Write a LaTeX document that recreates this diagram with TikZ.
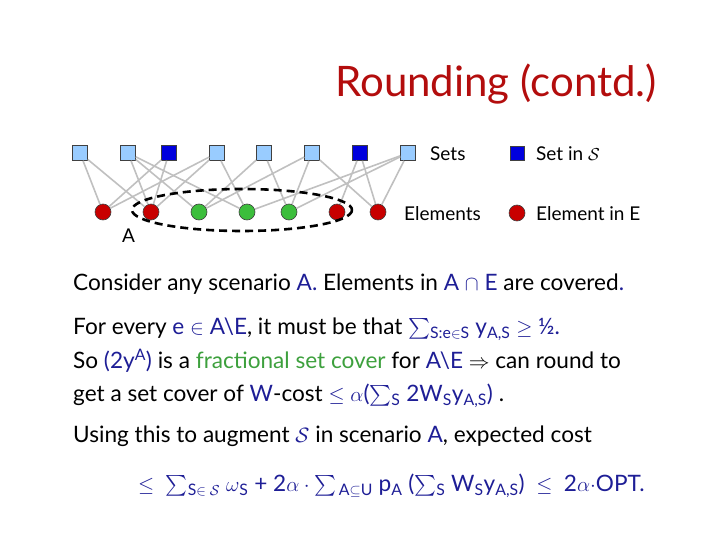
\documentclass[tikz,border=0pt]{standalone}
\usepackage{fontspec}
\setmainfont{Lato}
\usepackage{xcolor}
\usepackage{amsmath}
\usetikzlibrary{positioning}
\definecolor{titleRed} {HTML}{B30D0D}
\definecolor{textBlue} {HTML}{1E1E96}
\definecolor{textGreen}{HTML}{3DA03D}
\definecolor{setLight} {HTML}{99CCFF}
\definecolor{setDark}  {HTML}{0000DD}
\definecolor{elemRed}  {HTML}{C80000}
\definecolor{elemGreen}{HTML}{3CBE3C}
\definecolor{linkGray} {HTML}{C0C0C0}
\newcommand{\bl}[1]{\textcolor{textBlue}{#1}}
\newcommand{\gr}[1]{\textcolor{textGreen}{#1}}
\newcommand{\lo}[1]{\smash{\textsubscript{#1}}}
\newcommand{\hi}[1]{\smash{\textsuperscript{#1}}}
\tikzset{
  setnode/.style={rectangle,draw=black!75,line width=0.6pt,fill=setLight,minimum size=15pt,inner sep=0pt},
  setin/.style={setnode,fill=setDark},
  elem/.style={circle,draw=black!75,line width=0.6pt,fill=elemRed,minimum size=16pt,inner sep=0pt},
  elemfree/.style={elem,fill=elemGreen},
  link/.style={draw=linkGray,line width=1.6pt},
  scenario/.style={draw=black,dashed,dash pattern=on 8pt off 5pt,line width=2.6pt},
  legend/.style={anchor=base west,inner sep=0pt,font=\fontsize{19}{23}\selectfont},
  textline/.style={anchor=base west,inner sep=0pt,font=\fontsize{22.6}{27}\selectfont},
  title/.style={anchor=base east,inner sep=0pt,text=titleRed,font=\fontsize{42}{50}\selectfont},
}
\begin{document}
\begin{tikzpicture}[x=1pt,y=-1pt]
\useasboundingbox (0,0) rectangle (720,540);

\node[title] (ttl) at (657,97) {Rounding (contd.)};

\node[setnode] (s1) at (80,153)  {};
\node[setnode] (s2) at (128,153) {};
\node[setin]   (s3) at (169,153) {};
\node[setnode] (s4) at (217,153) {};
\node[setnode] (s5) at (264,153) {};
\node[setnode] (s6) at (312,153) {};
\node[setin]   (s7) at (360,153) {};
\node[setnode] (s8) at (408,153) {};

\node[elem]     (e1) at (103,212) {};
\node[elem]     (e2) at (151,212) {};
\node[elemfree] (e3) at (199,212) {};
\node[elemfree] (e4) at (247,212) {};
\node[elemfree] (e5) at (289,212) {};
\node[elem]     (e6) at (337,212) {};
\node[elem]     (e7) at (378,212) {};

\draw[link] (s1) -- (e1);
\draw[link] (s1) -- (e2);
\draw[link] (s2) -- (e2);
\draw[link] (s2) -- (e3);
\draw[link] (s2) -- (e4);
\draw[link] (s3) -- (e1);
\draw[link] (s3) -- (e2);
\draw[link] (s4) -- (e1);
\draw[link] (s4) -- (e2);
\draw[link] (s4) -- (e4);
\draw[link] (s5) -- (e3);
\draw[link] (s5) -- (e5);
\draw[link] (s6) -- (e3);
\draw[link] (s6) -- (e5);
\draw[link] (s6) -- (e7);
\draw[link] (s7) -- (e6);
\draw[link] (s7) -- (e7);
\draw[link] (s8) -- (e4);
\draw[link] (s8) -- (e5);
\draw[link] (s8) -- (e7);

\draw[scenario] (242,210) ellipse [x radius=110,y radius=21];
\node[legend] (lblA) at (122,242) {A};

\node[legend] (lblsets) at (430,161) {Sets};
\node[setin,minimum size=14pt] (keyin) at (517,153) {};
\node[legend] (lblin) at (536,161) {Set in $\mathcal{S}$};
\node[legend] (lblelem) at (404,221) {Elements};
\node[elem] (keyelem) at (517,213) {};
\node[legend] (lblelin) at (536,221) {Element in E};

\node[textline] (l1) at (73,290) {Consider any scenario \bl{A.} Elements in \bl{A $\cap$ E} are covered\bl{.}};
\node[textline] (l2) at (73,334) {For every \bl{e $\in$ A\textbackslash E}, it must be that \bl{$\sum$\lo{S:e$\in$S} y\lo{A,S} $\geq$ ½.}};
\node[textline] (l3) at (73,368) {So \bl{(2y\hi{A})} is a \gr{fractional set cover} for \bl{A\textbackslash E} $\Rightarrow$ can round to};
\node[textline] (l4) at (73,401) {get a set cover of \bl{W}-cost \bl{$\leq$ $\alpha$($\sum$\lo{S} 2W\lo{S}y\lo{A,S})} .};
\node[textline] (l5) at (73,442) {Using this to augment \bl{$\mathcal{S}$} in scenario \bl{A}, expected cost};
\node[textline,text=textBlue] (l6) at (138,491) {$\leq$\ \ $\sum$\lo{S$\in\mathcal{S}$} $\omega$\lo{S} + 2$\alpha\cdot\sum$\lo{\,A$\subseteq$U} p\lo{A} ($\sum$\lo{S} W\lo{S}y\lo{A,S})\ \ $\leq$\ \ 2$\alpha\cdot$OPT.};

\end{tikzpicture}
\end{document}
